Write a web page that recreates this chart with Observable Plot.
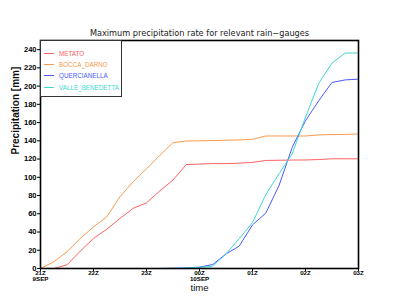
<!DOCTYPE html>
<html>
<head>
<meta charset="utf-8">
<script src="https://cdn.jsdelivr.net/npm/d3@7"></script>
<script src="https://cdn.jsdelivr.net/npm/@observablehq/plot@0.6"></script>
<style>
  html, body { margin: 0; padding: 0; background: white; }
  #wrap { position: relative; width: 399px; height: 308px; }
  #legend { position: absolute; left: 40px; top: 40px; width: 82px; height: 57px; border: 1.5px solid #333; box-sizing: border-box; background: white; font-family: "Liberation Sans", sans-serif; font-size: 6.3px; }
  .item { position: absolute; left: 3px; height: 8px; display: flex; align-items: center; }
  .item .sw { width: 10px; height: 0; border-top: 1.2px solid; margin-right: 5px; }
</style>
</head>
<body>
<div id="wrap"></div>
<script>
const title = "Maximum precipitation rate for relevant rain\u2212gauges";
const yLabel = "Precipitation [mm]";
const xLabel = "time";
// 15-minute steps from 21Z 9SEP to 03Z 10SEP (hours after 21Z)
const steps = d3.range(25).map(i => i / 4);
const xTicks = [0, 1, 2, 3, 4, 5, 6];
const xTickLabels = ["21Z\n9SEP", "22Z", "23Z", "00Z\n10SEP", "01Z", "02Z", "03Z"];
const yTicks = [0, 20, 40, 60, 80, 100, 120, 140, 160, 180, 200, 220, 240];

const seriesNames = ["METATO", "BOCCA_DARNO", "QUERCIANELLA", "VALLE_BENEDETTA"];
const seriesColors = ["#ff6262", "#f89a4e", "#4a5aff", "#3ed8d4"];

const metato = [0, 0, 4, 19, 33, 43, 55, 66, 72, 85, 97, 114, 114.5, 115, 115, 115.5, 116.3, 118.5, 118.7, 118.9, 119, 119.5, 120.3, 120.3, 120.3];
const boccaDarno = [0, 7.3, 18.3, 33, 45.6, 56.6, 78.7, 95.3, 109.3, 124, 138, 139.8, 140, 140.3, 140.6, 141, 141.7, 145.3, 145.3, 145.3, 145.3, 146.5, 146.8, 147, 147.5];
const quercianella = [0, 0, 0, 0, 0, 0, 0, 0, 0, 0, 0.2, 0.5, 1.5, 4.4, 16, 24.6, 47.8, 60.7, 90.9, 133, 162, 184, 204, 206.8, 207.6];
const valleBenedetta = [0, 0, 0, 0, 0, 0, 0, 0, 0, 0, 0.2, 0.5, 1.2, 2.5, 16, 32.7, 50.4, 81, 103.8, 125.9, 166, 203, 225.3, 236.3, 236.3];

const allSeries = [metato, boccaDarno, quercianella, valleBenedetta];
const rows = [];
allSeries.forEach((vals, s) => vals.forEach((v, i) => rows.push({series: seriesNames[s], t: steps[i], v})));

const chart = Plot.plot({
  width: 399,
  height: 308,
  marginLeft: 40,
  marginRight: 41,
  marginTop: 40,
  marginBottom: 40,
  style: {fontFamily: "DejaVu Sans, sans-serif", background: "white", color: "black"},
  x: {domain: [0, 6]},
  y: {domain: [0, 250]},
  color: {domain: seriesNames, range: seriesColors},
  marks: [
    Plot.line(rows, {x: "t", y: "v", z: "series", stroke: "series", strokeWidth: 1}),
    Plot.frame({stroke: "black", strokeWidth: 1.6}),
    Plot.axisY({ticks: yTicks, tickSize: 3, tickPadding: 1, label: null, fontSize: 7.5, fontWeight: "bold", fontFamily: "Liberation Sans, sans-serif"}),
    Plot.axisX({ticks: xTicks, tickSize: 3, tickPadding: 0, label: null, fontSize: 6.2, fontWeight: "bold", lineHeight: 0.9, fontFamily: "Liberation Sans, sans-serif",
      tickFormat: d => xTickLabels[xTicks.indexOf(d)]}),
    Plot.text([title], {frameAnchor: "top", dy: -10, fontSize: 8.2, fontFamily: "DejaVu Sans, sans-serif", fill: "#222"}),
    Plot.text([yLabel], {frameAnchor: "left", dx: -25, rotate: -90, fontSize: 10, fontWeight: "bold", fontFamily: "Liberation Sans, sans-serif", fill: "#111"}),
    Plot.text([xLabel], {frameAnchor: "bottom", lineAnchor: "middle", dy: 19.5, fontSize: 9.5, fontFamily: "Liberation Sans, sans-serif", fill: "#111"})
  ]
});

const wrap = document.getElementById("wrap");
wrap.appendChild(chart);
const legend = document.createElement("div");
legend.id = "legend";
seriesNames.forEach((name, i) => {
  const it = document.createElement("div");
  it.className = "item";
  it.style.top = (8 + i * 11.4) + "px";
  it.style.color = seriesColors[i];
  const sw = document.createElement("span");
  sw.className = "sw";
  sw.style.borderTopColor = seriesColors[i];
  const tx = document.createElement("span");
  tx.textContent = name;
  it.appendChild(sw);
  it.appendChild(tx);
  legend.appendChild(it);
});
wrap.appendChild(legend);
</script>
</body>
</html>
